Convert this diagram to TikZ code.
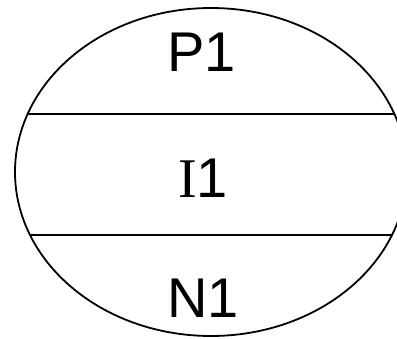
\documentclass[tikz,border=0pt]{standalone}
\usepackage{fontspec}
\setmainfont{Liberation Serif}
\setsansfont{Liberation Sans}

\begin{document}
\begin{tikzpicture}[x=1pt, y=1pt,
		font=\sffamily\fontsize{56}{60}\selectfont,
		% Outline of the shell and of the band borders
		outline/.style={draw=black, line width=1.8pt},
		% Text of each band
		bandlabel/.style={inner sep=0pt, anchor=center}
		]
		
		% =========================================================================
		% PAGE FRAME
		% =========================================================================
		\useasboundingbox (0,0) rectangle (397,338);
		
		% =========================================================================
		% SHELL AND BAND BORDERS
		% =========================================================================
		\draw[outline] (211,166) ellipse (196 and 164);
		\begin{scope}
			\clip (211,166) ellipse (196 and 164);
			\draw[outline] (0,224) -- (420,224);
			\draw[outline] (0,103) -- (420,103);
		\end{scope}
		
		% =========================================================================
		% BAND LABELS
		% =========================================================================
		\node[bandlabel] (p1) at (201.5,286) {P1};
		\node[bandlabel] (i1) at (203,160) {{\rmfamily I}1};
		\node[bandlabel] (n1) at (203,40) {N1};
		
	\end{tikzpicture}
\end{document}
